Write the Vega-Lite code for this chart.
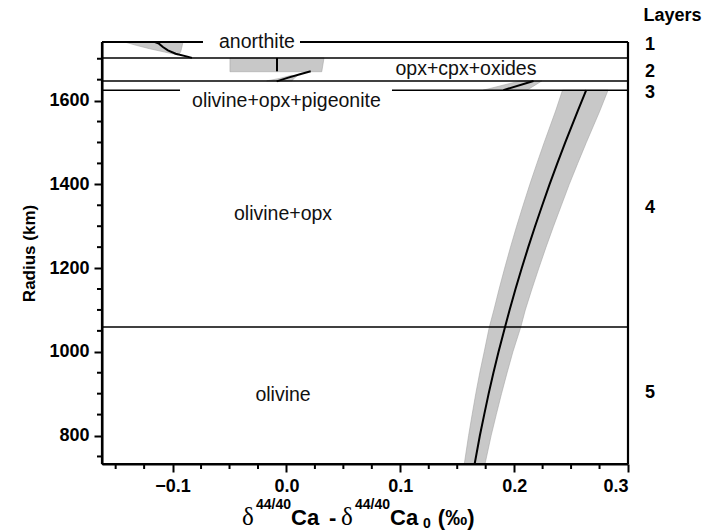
{
  "$schema": "https://vega.github.io/schema/vega-lite/v6.json",
  "width": 526,
  "height": 422,
  "autosize": {"type": "none"},
  "padding": {"left": 102, "top": 42, "right": 74, "bottom": 66},
  "background": "white",
  "view": {"stroke": null},
  "config": {
    "font": "Liberation Sans",
    "axis": {
      "grid": false,
      "tickColor": "black",
      "tickWidth": 2,
      "tickSize": 8,
      "labelFont": "Liberation Sans",
      "labelFontWeight": "bold",
      "labelFontSize": 18,
      "labelColor": "black",
      "titleFont": "Liberation Sans",
      "titleFontWeight": "bold",
      "titleColor": "black"
    }
  },
  "datasets": {
    "bands": [
      {"seg": "main", "r": 732, "lo": 0.1562, "hi": 0.1744},
      {"seg": "main", "r": 800, "lo": 0.1600, "hi": 0.1798},
      {"seg": "main", "r": 850, "lo": 0.1631, "hi": 0.1843},
      {"seg": "main", "r": 900, "lo": 0.1663, "hi": 0.1889},
      {"seg": "main", "r": 950, "lo": 0.1698, "hi": 0.1938},
      {"seg": "main", "r": 1000, "lo": 0.1737, "hi": 0.1989},
      {"seg": "main", "r": 1059, "lo": 0.1782, "hi": 0.2058},
      {"seg": "main", "r": 1100, "lo": 0.1822, "hi": 0.2098},
      {"seg": "main", "r": 1150, "lo": 0.1868, "hi": 0.2156},
      {"seg": "main", "r": 1200, "lo": 0.1917, "hi": 0.2217},
      {"seg": "main", "r": 1250, "lo": 0.1968, "hi": 0.2280},
      {"seg": "main", "r": 1300, "lo": 0.2022, "hi": 0.2346},
      {"seg": "main", "r": 1350, "lo": 0.2079, "hi": 0.2415},
      {"seg": "main", "r": 1400, "lo": 0.2138, "hi": 0.2484},
      {"seg": "main", "r": 1450, "lo": 0.2200, "hi": 0.2558},
      {"seg": "main", "r": 1500, "lo": 0.2264, "hi": 0.2634},
      {"seg": "main", "r": 1575, "lo": 0.2364, "hi": 0.2752},
      {"seg": "main", "r": 1625, "lo": 0.2425, "hi": 0.2825},
      {"seg": "l3", "r": 1625, "lo": 0.1729, "hi": 0.2113},
      {"seg": "l3", "r": 1647, "lo": 0.2053, "hi": 0.2243},
      {"seg": "l2b", "r": 1647, "lo": -0.0174, "hi": 0.0049},
      {"seg": "l2b", "r": 1653, "lo": -0.0060, "hi": 0.0065},
      {"seg": "l2b", "r": 1660, "lo": 0.0040, "hi": 0.0100},
      {"seg": "l2", "r": 1669, "lo": -0.0496, "hi": 0.0310},
      {"seg": "l2", "r": 1702, "lo": -0.0496, "hi": 0.0330},
      {"seg": "l1", "r": 1709, "lo": -0.0955, "hi": -0.0950},
      {"seg": "l1", "r": 1716, "lo": -0.1070, "hi": -0.0930},
      {"seg": "l1", "r": 1724, "lo": -0.1202, "hi": -0.0922},
      {"seg": "l1", "r": 1732, "lo": -0.1319, "hi": -0.0915},
      {"seg": "l1", "r": 1740, "lo": -0.1422, "hi": -0.0909}
    ],
    "curves": [
      {"seg": "main", "r": 732, "x": 0.1653},
      {"seg": "main", "r": 800, "x": 0.1699},
      {"seg": "main", "r": 850, "x": 0.1737},
      {"seg": "main", "r": 900, "x": 0.1776},
      {"seg": "main", "r": 950, "x": 0.1818},
      {"seg": "main", "r": 1000, "x": 0.1863},
      {"seg": "main", "r": 1059, "x": 0.1920},
      {"seg": "main", "r": 1100, "x": 0.1960},
      {"seg": "main", "r": 1150, "x": 0.2012},
      {"seg": "main", "r": 1200, "x": 0.2067},
      {"seg": "main", "r": 1250, "x": 0.2124},
      {"seg": "main", "r": 1300, "x": 0.2184},
      {"seg": "main", "r": 1350, "x": 0.2247},
      {"seg": "main", "r": 1400, "x": 0.2311},
      {"seg": "main", "r": 1450, "x": 0.2379},
      {"seg": "main", "r": 1500, "x": 0.2449},
      {"seg": "main", "r": 1575, "x": 0.2558},
      {"seg": "main", "r": 1625, "x": 0.2633},
      {"seg": "l3", "r": 1625, "x": 0.1905},
      {"seg": "l3", "r": 1647, "x": 0.2170},
      {"seg": "l2b", "r": 1646, "x": -0.0086},
      {"seg": "l2b", "r": 1655, "x": 0.0016},
      {"seg": "l2b", "r": 1663, "x": 0.0119},
      {"seg": "l2b", "r": 1670, "x": 0.0213},
      {"seg": "l2", "r": 1670, "x": -0.0083},
      {"seg": "l2", "r": 1702, "x": -0.0083},
      {"seg": "l1", "r": 1702, "x": -0.0830},
      {"seg": "l1", "r": 1705, "x": -0.0870},
      {"seg": "l1", "r": 1712, "x": -0.0973},
      {"seg": "l1", "r": 1720, "x": -0.1041},
      {"seg": "l1", "r": 1728, "x": -0.1085},
      {"seg": "l1", "r": 1736, "x": -0.1120},
      {"seg": "l1", "r": 1740, "x": -0.1155}
    ],
    "lines": [
      {"kind": "frame", "x1": -0.162, "x2": -0.0733, "y1": 1740, "y2": 1740},
      {"kind": "frame", "x1": 0.0119, "x2": 0.3, "y1": 1740, "y2": 1740},
      {"kind": "frame", "x1": 0.3, "x2": 0.3, "y1": 732, "y2": 1740},
      {"kind": "edge", "x1": -0.162, "x2": -0.162, "y1": 732, "y2": 1740},
      {"kind": "edge", "x1": -0.162, "x2": 0.3, "y1": 732, "y2": 732},
      {"kind": "inner", "x1": -0.162, "x2": 0.3, "y1": 1702, "y2": 1702},
      {"kind": "inner", "x1": -0.162, "x2": 0.3, "y1": 1647, "y2": 1647},
      {"kind": "inner", "x1": -0.162, "x2": -0.0935, "y1": 1625, "y2": 1625},
      {"kind": "inner", "x1": 0.0927, "x2": 0.3, "y1": 1625, "y2": 1625},
      {"kind": "inner", "x1": -0.162, "x2": 0.3, "y1": 1059, "y2": 1059}
    ],
    "minorY": [
      {"v": 750}, {"v": 850}, {"v": 900}, {"v": 950}, {"v": 1050}, {"v": 1100}, {"v": 1150},
      {"v": 1250}, {"v": 1300}, {"v": 1350}, {"v": 1450}, {"v": 1500}, {"v": 1550}, {"v": 1650}, {"v": 1700}
    ],
    "minorX": [
      {"v": -0.15}, {"v": -0.125}, {"v": -0.075}, {"v": -0.05}, {"v": -0.025}, {"v": 0.025}, {"v": 0.05},
      {"v": 0.075}, {"v": 0.125}, {"v": 0.15}, {"v": 0.175}, {"v": 0.225}, {"v": 0.25}, {"v": 0.275}
    ],
    "labels": [
      {"text": "anorthite", "x": -0.0259, "r": 1740},
      {"text": "opx+cpx+oxides", "x": 0.1577, "r": 1676},
      {"text": "olivine+opx+pigeonite", "x": 0.0, "r": 1599},
      {"text": "olivine+opx", "x": -0.003, "r": 1329},
      {"text": "olivine", "x": -0.003, "r": 897}
    ],
    "layers": [
      {"text": "Layers", "x": 0.339, "r": 1802},
      {"text": "1", "x": 0.3193, "r": 1733},
      {"text": "2", "x": 0.3193, "r": 1668},
      {"text": "3", "x": 0.3193, "r": 1618},
      {"text": "4", "x": 0.3193, "r": 1344},
      {"text": "5", "x": 0.3193, "r": 902}
    ],
    "xtitle": [
      {"part": "delta", "text": "δ", "x": -0.0390, "r": 586},
      {"part": "sup", "text": "44/40", "x": -0.0267, "r": 624},
      {"part": "main", "text": "Ca", "x": 0.0040, "r": 586},
      {"part": "main", "text": "-", "x": 0.0374, "r": 586},
      {"part": "delta", "text": "δ", "x": 0.0479, "r": 586},
      {"part": "sup", "text": "44/40", "x": 0.0602, "r": 624},
      {"part": "main", "text": "Ca", "x": 0.0910, "r": 586},
      {"part": "sub", "text": "0", "x": 0.1200, "r": 578},
      {"part": "main", "text": "(‰)", "x": 0.1330, "r": 586}
    ]
  },
  "layer": [
    {
      "data": {"name": "bands"},
      "mark": {"type": "area", "orient": "horizontal", "fill": "#c8c8c8", "stroke": "#a6a6a6", "strokeWidth": 0.6},
      "encoding": {
        "y": {
          "field": "r", "type": "quantitative",
          "scale": {"domain": [732, 1740], "nice": false, "zero": false},
          "axis": {
            "title": "Radius (km)",
            "titleFontSize": 17,
            "titlePadding": 10,
            "values": [800, 1000, 1200, 1400, 1600],
            "format": "d",
            "labelPadding": 5,
            "domain": true,
            "domainColor": "black",
            "domainWidth": 2
          }
        },
        "x": {
          "field": "lo", "type": "quantitative",
          "scale": {"domain": [-0.162, 0.3], "nice": false, "zero": false},
          "axis": {
            "title": null,
            "values": [-0.1, 0, 0.1, 0.2, 0.3],
            "format": ".1f",
            "labelPadding": 5,
            "domain": true,
            "domainColor": "black",
            "domainWidth": 2
          }
        },
        "x2": {"field": "hi"},
        "detail": {"field": "seg"}
      }
    },
    {
      "data": {"name": "curves"},
      "mark": {"type": "line", "color": "black", "strokeWidth": 2},
      "encoding": {
        "y": {"field": "r", "type": "quantitative"},
        "x": {"field": "x", "type": "quantitative"},
        "detail": {"field": "seg"},
        "order": {"field": "r", "type": "quantitative"}
      }
    },
    {
      "data": {"name": "lines"},
      "transform": [{"filter": "datum.kind == 'inner'"}],
      "mark": {"type": "rule", "color": "black", "strokeWidth": 1.5},
      "encoding": {
        "x": {"field": "x1", "type": "quantitative"},
        "x2": {"field": "x2"},
        "y": {"field": "y1", "type": "quantitative"},
        "y2": {"field": "y2"}
      }
    },
    {
      "data": {"name": "lines"},
      "transform": [{"filter": "datum.kind == 'frame' || datum.kind == 'edge'"}],
      "mark": {"type": "rule", "color": "black", "strokeWidth": 2.2},
      "encoding": {
        "x": {"field": "x1", "type": "quantitative"},
        "x2": {"field": "x2"},
        "y": {"field": "y1", "type": "quantitative"},
        "y2": {"field": "y2"}
      }
    },
    {
      "data": {"name": "minorY"},
      "mark": {"type": "rule", "color": "black", "strokeWidth": 2},
      "encoding": {
        "y": {"field": "v", "type": "quantitative"},
        "x": {"datum": -0.162},
        "x2": {"datum": -0.1664}
      }
    },
    {
      "data": {"name": "minorX"},
      "mark": {"type": "rule", "color": "black", "strokeWidth": 2},
      "encoding": {
        "x": {"field": "v", "type": "quantitative"},
        "y": {"datum": 732},
        "y2": {"datum": 720}
      }
    },
    {
      "data": {"name": "labels"},
      "mark": {"type": "text", "font": "Liberation Sans", "fontSize": 19.5, "color": "#111111", "align": "center", "baseline": "middle"},
      "encoding": {
        "x": {"field": "x", "type": "quantitative"},
        "y": {"field": "r", "type": "quantitative"},
        "text": {"field": "text"}
      }
    },
    {
      "data": {"name": "layers"},
      "mark": {"type": "text", "font": "Liberation Sans", "fontSize": 18, "fontWeight": "bold", "color": "black", "align": "center", "baseline": "middle"},
      "encoding": {
        "x": {"field": "x", "type": "quantitative"},
        "y": {"field": "r", "type": "quantitative"},
        "text": {"field": "text"}
      }
    },
    {
      "data": {"name": "xtitle"},
      "transform": [{"filter": "datum.part == 'delta'"}],
      "mark": {"type": "text", "font": "Liberation Serif", "fontSize": 25, "color": "black", "align": "left", "baseline": "alphabetic"},
      "encoding": {
        "x": {"field": "x", "type": "quantitative"},
        "y": {"field": "r", "type": "quantitative"},
        "text": {"field": "text"}
      }
    },
    {
      "data": {"name": "xtitle"},
      "transform": [{"filter": "datum.part == 'main'"}],
      "mark": {"type": "text", "font": "Liberation Sans", "fontSize": 22, "fontWeight": "bold", "color": "black", "align": "left", "baseline": "alphabetic"},
      "encoding": {
        "x": {"field": "x", "type": "quantitative"},
        "y": {"field": "r", "type": "quantitative"},
        "text": {"field": "text"}
      }
    },
    {
      "data": {"name": "xtitle"},
      "transform": [{"filter": "datum.part == 'sup' || datum.part == 'sub'"}],
      "mark": {"type": "text", "font": "Liberation Sans", "fontSize": 14, "fontWeight": "bold", "color": "black", "align": "left", "baseline": "alphabetic"},
      "encoding": {
        "x": {"field": "x", "type": "quantitative"},
        "y": {"field": "r", "type": "quantitative"},
        "text": {"field": "text"}
      }
    }
  ]
}
